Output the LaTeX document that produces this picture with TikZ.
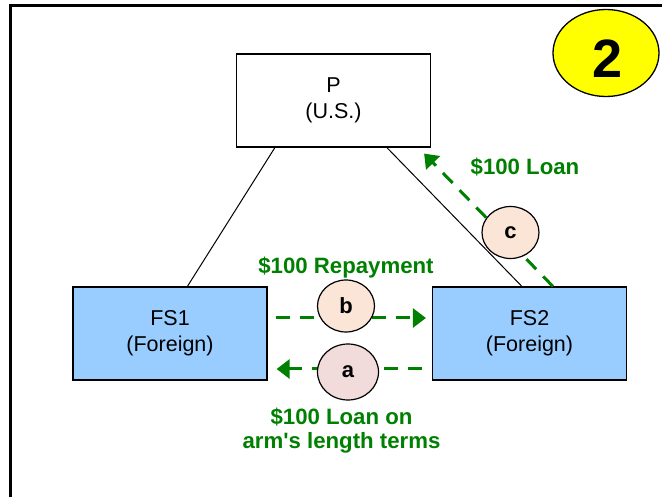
\documentclass[tikz,border=0pt]{standalone}
\usepackage{fontspec}
\setmainfont{Liberation Sans}
\usetikzlibrary{shapes.geometric,arrows.meta}
\definecolor{flowgreen}{HTML}{008000}
\definecolor{entityblue}{HTML}{99CCFF}
\definecolor{peach}{HTML}{FBE5D6}
\definecolor{rose}{HTML}{F2DCDB}
\definecolor{badgeyellow}{HTML}{FFFF00}
\begin{document}
\begin{tikzpicture}[x=1pt,y=-1pt,
  entity/.style={draw, line width=1.2pt, minimum width=194pt, minimum height=93pt,
    align=center, inner sep=0pt, font=\fontsize{21.5}{26}\selectfont,
    execute at begin node={\rule{0pt}{22pt}}},
  link/.style={draw, line width=1pt},
  flow/.style={draw=flowgreen, line width=3pt, dash pattern=on 14pt off 10pt,
    -{Triangle[length=13pt,width=19pt,fill=flowgreen]}},
  tag/.style={ellipse, draw, line width=1.2pt, inner sep=0pt,
    font=\fontsize{22}{26}\selectfont\bfseries},
  flowlabel/.style={text=flowgreen, inner sep=0pt, align=center,
    font=\fontsize{22.2}{24}\selectfont\bfseries},
]
\useasboundingbox (0,0) rectangle (662,497);

% frame
\draw[line width=3pt, line join=miter] (10.5,497) -- (10.5,5.5) -- (662,5.5);

% step badge
\node[ellipse, draw, line width=1.3pt, fill=badgeyellow, minimum width=106pt,
  minimum height=87pt, inner sep=0pt] (badge) at (606,53) {};
\node[font=\fontsize{54}{60}\selectfont\bfseries, inner sep=0pt]
  (badgenum) at ([shift={(2pt,-6pt)}]badge.center) {2};

% entities
\node[entity, fill=white] (P) at (333.5,100.5) {P\\(U.S.)};
\node[entity, fill=entityblue] (FS1) at (170,333.5) {FS1\\(Foreign)};
\node[entity, fill=entityblue] (FS2) at (529.5,333.5) {FS2\\(Foreign)};

% ownership lines
\draw[link] ([xshift=39pt]P.south west) -- ([xshift=115pt]FS1.north west);
\draw[link] ([xshift=151pt]P.south west) -- ([xshift=90pt]FS2.north west);

% cash flows
\draw[flow] ([shift={(8pt,15.5pt)}]FS1.east) -- ([shift={(-6pt,15.5pt)}]FS2.west);
\draw[flow] ([shift={(-10pt,-35.5pt)}]FS2.west) -- ([shift={(9pt,-35.5pt)}]FS1.east);
\draw[flow] ([xshift=121pt]FS2.north west) -- ([shift={(-7pt,-6pt)}]P.south east);

% step markers
\node[tag, fill=peach, minimum width=57pt, minimum height=52pt] (b) at (346,306) {b};
\node[tag, fill=rose, minimum width=61pt, minimum height=56pt] (a) at (348,372) {a};
\node[tag, fill=peach, minimum width=57pt, minimum height=52pt] (c) at (510.5,232.5) {c};

% flow labels (anchor=base sits on the last line)
\node[flowlabel, anchor=base] (repay) at (346,274) {\$100 Repayment};
\node[flowlabel, anchor=base] (loanc) at (525,175) {\$100 Loan};
\node[flowlabel, anchor=base] (loana) at (341.5,448)
  {\$100 Loan on\\arm\textquotesingle s length terms};
\end{tikzpicture}
\end{document}
